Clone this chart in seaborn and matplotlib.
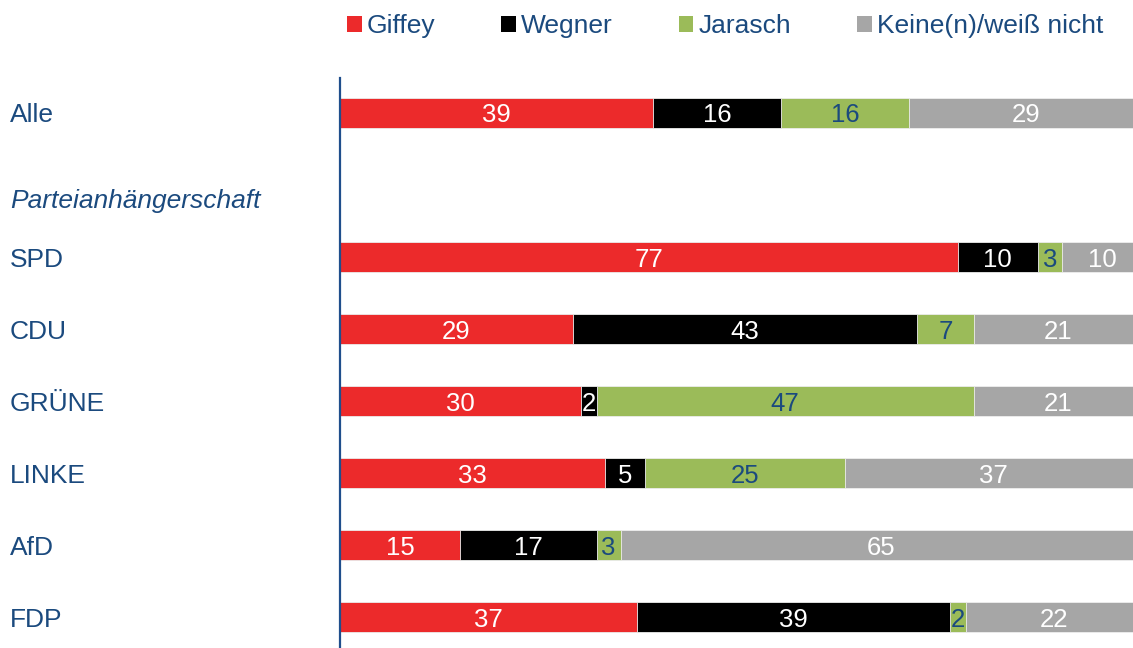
import numpy as np
import pandas as pd
import matplotlib
matplotlib.use("Agg")
import matplotlib.pyplot as plt
import matplotlib.transforms as mtransforms
import seaborn as sns

sns.set_style("white")
plt.rcParams['font.family'] = ['Liberation Sans', 'DejaVu Sans']

groups = ["Alle", "SPD", "CDU", "GRÜNE", "LINKE", "AfD", "FDP"]
section_label = "Parteianhängerschaft"
series = ["Giffey", "Wegner", "Jarasch", "Keine(n)/weiß nicht"]
giffey = [39, 77, 29, 30, 33, 15, 37]
wegner = [16, 10, 43, 2, 5, 17, 39]
jarasch = [16, 3, 7, 47, 25, 3, 2]
keine = [29, 10, 21, 21, 37, 65, 22]

colors = ["#EC2A2B", "#000000", "#9BBB59", "#A6A6A6"]
text_colors = ["white", "white", "#1B4A7E", "white"]
blue = "#1B4A7E"

order = ["Alle", section_label] + groups[1:]

df = pd.DataFrame({"group": groups, "Giffey": giffey, "Wegner": wegner,
                   "Jarasch": jarasch, "Keine(n)/weiß nicht": keine})
vals = df[series].to_numpy(dtype=float)
cum = np.cumsum(vals, axis=1)
for i, s in enumerate(series):
    df["cum_" + s] = cum[:, i]

W, H = 1133, 648
fig = plt.figure(figsize=(W / 100, H / 100), dpi=100)
ax = fig.add_axes([340 / W, 0, 802 / W, (H - 78) / H])

for i in range(len(series) - 1, -1, -1):
    s = series[i]
    sns.barplot(data=df, x="cum_" + s, y="group", order=order, color=colors[i],
                orient="h", width=0.42, saturation=1, errorbar=None,
                edgecolor="#EEEEEE", linewidth=0.6, ax=ax, label=s)

handles, labels = ax.get_legend_handles_labels()
hmap = dict(zip(labels, handles))
if ax.get_legend() is not None:
    ax.get_legend().remove()

ax.set_xlim(0, 100)
ax.set_ylim(7.43, -0.486)
ax.set_xlabel("")
ax.set_ylabel("")
ax.set_xticks([])
ax.set_yticks([])
for sp in ["top", "right", "bottom"]:
    ax.spines[sp].set_visible(False)
ax.spines["left"].set_color("#1F4E8C")
ax.spines["left"].set_linewidth(1.6)

# value labels
for r, g in enumerate(groups):
    ypos = order.index(g)
    left = 0.0
    for i, s in enumerate(series):
        v = vals[r, i]
        ax.text(left + v / 2, ypos, f"{int(v)}", ha="center",
                va="center_baseline", color=text_colors[i], fontsize=18.5)
        left += v

# category labels
trans = mtransforms.blended_transform_factory(fig.transFigure, ax.transData)
for g in groups:
    ax.text(10 / W, order.index(g), g, transform=trans, ha="left",
            va="center_baseline", color=blue, fontsize=19, clip_on=False)
ax.text(10 / W, 1.19, section_label, transform=trans, ha="left",
        va="center_baseline", color=blue, fontsize=19, style="italic",
        clip_on=False)

# legend
leg = fig.legend([hmap[s] for s in series], series, loc="center left",
                 bbox_to_anchor=(347 / W, 1 - 26 / H), ncol=4, frameon=False,
                 fontsize=19, handlelength=0.55, handleheight=0.55,
                 handletextpad=0.2, columnspacing=2.5, borderpad=0,
                 borderaxespad=0)
for t in leg.get_texts():
    t.set_color(blue)
for h in leg.legend_handles:
    h.set_edgecolor("none")

fig.savefig("out.png", dpi=100)
